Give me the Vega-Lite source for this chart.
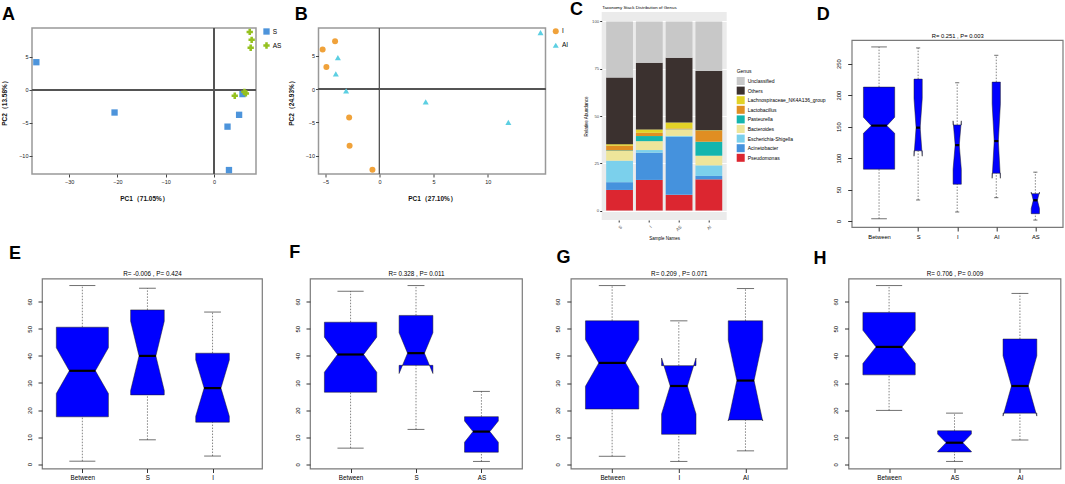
{
  "$schema": "https://vega.github.io/schema/vega-lite/v6.json",
  "padding": {"left": 0, "top": 1, "right": 0, "bottom": 0},
  "background": "white",
  "config": {
    "font": "Liberation Sans",
    "view": {"stroke": null},
    "axis": {"grid": false, "labelOverlap": false, "labelFont": "Liberation Sans", "titleFont": "Liberation Sans", "labelColor": "#222", "titleColor": "#111", "tickColor": "#444"},
    "legend": {"labelFont": "Liberation Sans", "titleFont": "Liberation Sans"},
    "title": {"font": "Liberation Sans"}
  },
  "datasets": {
    "pcaA": [
      {"Group": "S", "PC1": -36.8, "PC2": 4.2},
      {"Group": "S", "PC1": -20.6, "PC2": -3.45},
      {"Group": "S", "PC1": 2.8, "PC2": -5.6},
      {"Group": "S", "PC1": 5.2, "PC2": -3.8},
      {"Group": "S", "PC1": 3.1, "PC2": -12.2},
      {"Group": "S", "PC1": 5.9, "PC2": -0.65},
      {"Group": "AS", "PC1": 7.4, "PC2": 8.8},
      {"Group": "AS", "PC1": 7.8, "PC2": 7.6},
      {"Group": "AS", "PC1": 7.6, "PC2": 6.4},
      {"Group": "AS", "PC1": 4.3, "PC2": -0.9},
      {"Group": "AS", "PC1": 6.3, "PC2": -0.3},
      {"Group": "AS", "PC1": 6.6, "PC2": -0.55}
    ],
    "pcaB": [
      {"Group": "I", "PC1": -5.25, "PC2": 5.95},
      {"Group": "I", "PC1": -4.1, "PC2": 7.2},
      {"Group": "I", "PC1": -4.9, "PC2": 3.35},
      {"Group": "I", "PC1": -2.8, "PC2": -4.25},
      {"Group": "I", "PC1": -2.76, "PC2": -8.5},
      {"Group": "I", "PC1": -0.65, "PC2": -12.1},
      {"Group": "AI", "PC1": -3.84, "PC2": 4.75},
      {"Group": "AI", "PC1": -4.03, "PC2": 2.3},
      {"Group": "AI", "PC1": -3.08, "PC2": -0.25},
      {"Group": "AI", "PC1": 4.27, "PC2": -1.9},
      {"Group": "AI", "PC1": 11.9, "PC2": -5.0},
      {"Group": "AI", "PC1": 14.87, "PC2": 8.5}
    ],
    "genus": [
      {"Sample": "S", "Genus": "Pseudomonas", "Abundance": 10.9},
      {"Sample": "S", "Genus": "Acinetobacter", "Abundance": 4.1},
      {"Sample": "S", "Genus": "Escherichia-Shigella", "Abundance": 11.4},
      {"Sample": "S", "Genus": "Bacteroides", "Abundance": 5.1},
      {"Sample": "S", "Genus": "Pasteurella", "Abundance": 0.3},
      {"Sample": "S", "Genus": "Lactobacillus", "Abundance": 2.5},
      {"Sample": "S", "Genus": "Lachnospiraceae_NK4A136_group", "Abundance": 0.8},
      {"Sample": "S", "Genus": "Others", "Abundance": 35.2},
      {"Sample": "S", "Genus": "Unclassified", "Abundance": 29.7},
      {"Sample": "I", "Genus": "Pseudomonas", "Abundance": 16.2},
      {"Sample": "I", "Genus": "Acinetobacter", "Abundance": 14.4},
      {"Sample": "I", "Genus": "Escherichia-Shigella", "Abundance": 1.4},
      {"Sample": "I", "Genus": "Bacteroides", "Abundance": 4.7},
      {"Sample": "I", "Genus": "Pasteurella", "Abundance": 2.7},
      {"Sample": "I", "Genus": "Lactobacillus", "Abundance": 1.7},
      {"Sample": "I", "Genus": "Lachnospiraceae_NK4A136_group", "Abundance": 1.8},
      {"Sample": "I", "Genus": "Others", "Abundance": 35.3},
      {"Sample": "I", "Genus": "Unclassified", "Abundance": 21.8},
      {"Sample": "AS", "Genus": "Pseudomonas", "Abundance": 8.3},
      {"Sample": "AS", "Genus": "Acinetobacter", "Abundance": 30.7},
      {"Sample": "AS", "Genus": "Escherichia-Shigella", "Abundance": 0.5},
      {"Sample": "AS", "Genus": "Bacteroides", "Abundance": 3.4},
      {"Sample": "AS", "Genus": "Pasteurella", "Abundance": 0.1},
      {"Sample": "AS", "Genus": "Lactobacillus", "Abundance": 0.4},
      {"Sample": "AS", "Genus": "Lachnospiraceae_NK4A136_group", "Abundance": 3.2},
      {"Sample": "AS", "Genus": "Others", "Abundance": 34.2},
      {"Sample": "AS", "Genus": "Unclassified", "Abundance": 19.2},
      {"Sample": "AI", "Genus": "Pseudomonas", "Abundance": 16.5},
      {"Sample": "AI", "Genus": "Acinetobacter", "Abundance": 1.8},
      {"Sample": "AI", "Genus": "Escherichia-Shigella", "Abundance": 5.6},
      {"Sample": "AI", "Genus": "Bacteroides", "Abundance": 5.1},
      {"Sample": "AI", "Genus": "Pasteurella", "Abundance": 7.4},
      {"Sample": "AI", "Genus": "Lactobacillus", "Abundance": 5.8},
      {"Sample": "AI", "Genus": "Lachnospiraceae_NK4A136_group", "Abundance": 0.3},
      {"Sample": "AI", "Genus": "Others", "Abundance": 31.3},
      {"Sample": "AI", "Genus": "Unclassified", "Abundance": 26.2}
    ],
    "boxes": [
      {"panel": "D", "group": "Between", "n": 216, "wlo": 3.7, "q1": 82.4, "clo": 139.4, "med": 151.6, "chi": 164.9, "q3": 212.8, "whi": 276.6},
      {"panel": "D", "group": "S", "n": 15, "wlo": 33.5, "q1": 111.7, "clo": 103.0, "med": 148.4, "chi": 194.8, "q3": 225.5, "whi": 275.0},
      {"panel": "D", "group": "I", "n": 15, "wlo": 14.4, "q1": 58.5, "clo": 82.2, "med": 120.7, "chi": 159.2, "q3": 152.7, "whi": 219.7},
      {"panel": "D", "group": "AI", "n": 15, "wlo": 37.2, "q1": 76.0, "clo": 68.0, "med": 127.1, "chi": 186.2, "q3": 220.7, "whi": 263.3},
      {"panel": "D", "group": "AS", "n": 15, "wlo": 1.6, "q1": 11.7, "clo": 20.0, "med": 33.0, "chi": 46.0, "q3": 43.6, "whi": 77.7},
      {"panel": "E", "group": "Between", "n": 36, "wlo": 1.1, "q1": 17.5, "clo": 26.1, "med": 34.5, "chi": 43.0, "q3": 50.6, "whi": 66.0},
      {"panel": "E", "group": "S", "n": 15, "wlo": 9.0, "q1": 25.6, "clo": 27.2, "med": 40.0, "chi": 52.8, "q3": 57.0, "whi": 65.0},
      {"panel": "E", "group": "I", "n": 15, "wlo": 3.0, "q1": 15.5, "clo": 17.7, "med": 28.1, "chi": 38.5, "q3": 41.0, "whi": 56.2},
      {"panel": "F", "group": "Between", "n": 36, "wlo": 6.0, "q1": 26.6, "clo": 34.0, "med": 40.5, "chi": 46.9, "q3": 52.4, "whi": 63.8},
      {"panel": "F", "group": "S", "n": 15, "wlo": 12.9, "q1": 36.5, "clo": 33.5, "med": 41.0, "chi": 48.5, "q3": 54.9, "whi": 65.9},
      {"panel": "F", "group": "AS", "n": 15, "wlo": 1.1, "q1": 4.5, "clo": 8.2, "med": 12.1, "chi": 16.0, "q3": 17.6, "whi": 26.9},
      {"panel": "G", "group": "Between", "n": 36, "wlo": 3.0, "q1": 20.4, "clo": 28.8, "med": 37.4, "chi": 46.0, "q3": 52.9, "whi": 65.9},
      {"panel": "G", "group": "I", "n": 15, "wlo": 1.1, "q1": 11.1, "clo": 18.6, "med": 28.9, "chi": 39.2, "q3": 36.4, "whi": 52.9},
      {"panel": "G", "group": "AI", "n": 15, "wlo": 5.0, "q1": 16.4, "clo": 16.0, "med": 30.9, "chi": 45.8, "q3": 52.9, "whi": 64.8},
      {"panel": "H", "group": "Between", "n": 36, "wlo": 19.9, "q1": 33.0, "clo": 37.2, "med": 43.3, "chi": 49.4, "q3": 56.0, "whi": 65.9},
      {"panel": "H", "group": "AS", "n": 15, "wlo": 1.1, "q1": 4.6, "clo": 4.8, "med": 8.0, "chi": 11.2, "q3": 12.4, "whi": 18.9},
      {"panel": "H", "group": "AI", "n": 15, "wlo": 9.0, "q1": 18.9, "clo": 17.8, "med": 28.9, "chi": 40.0, "q3": 46.2, "whi": 63.0}
    ]
  },
  "resolve": {"scale": {"color": "independent", "shape": "independent"}, "legend": {"color": "independent", "shape": "independent"}},
  "spacing": 3.5,
  "vconcat": [
    {
      "spacing": -0.3,
      "resolve": {"scale": {"color": "independent", "shape": "independent"}, "legend": {"color": "independent", "shape": "independent"}},
      "hconcat": [
        {
          "spacing": 3.5,
          "resolve": {"scale": {"color": "independent", "shape": "independent"}, "legend": {"color": "independent", "shape": "independent"}},
          "hconcat": [
            {
              "bounds": "flush", "spacing": 0,
              "resolve": {"scale": {"color": "independent", "shape": "independent"}, "legend": {"color": "independent", "shape": "independent"}},
              "vconcat": [
                {"width": 1, "height": 16, "data": {"values": []}, "mark": {"type": "point"}},
                {
                  "width": 224, "height": 146,
                  "title": {"text": "A", "anchor": "start", "frame": "group", "dx": -30, "offset": 4, "fontSize": 18, "fontWeight": "bold", "color": "#000"},
                  "view": {"stroke": "#999", "strokeWidth": 1.5},
                  "data": {"name": "pcaA"},
                  "layer": [
                    {"mark": {"type": "rule", "color": "#555", "strokeWidth": 1}, "encoding": {"y": {"datum": 0, "type": "quantitative"}}},
                    {"mark": {"type": "rule", "color": "#555", "strokeWidth": 1}, "encoding": {"x": {"datum": 0, "type": "quantitative"}}},
                    {"mark": {"type": "point", "filled": true, "opacity": 1, "size": 40},
                     "encoding": {
                       "x": {"field": "PC1", "type": "quantitative", "scale": {"domain": [-37.7, 8.7], "nice": false, "zero": false},
                             "axis": {"values": [-30, -20, -10, 0], "title": "PC1（71.05%）", "titleFontSize": 6.5, "titleFontWeight": "bold", "titlePadding": 11, "labelFontSize": 5.5, "labelPadding": 2, "tickSize": 3, "domain": false, "labelFlush": false}},
                       "y": {"field": "PC2", "type": "quantitative", "scale": {"domain": [-12.8, 9.4], "nice": false, "zero": false},
                             "axis": {"values": [-10, -5, 0, 5], "title": "PC2（13.58%）", "titleFontSize": 6.5, "titleFontWeight": "bold", "titlePadding": 11, "labelFontSize": 5.5, "labelPadding": 1, "tickSize": 3, "domain": false}},
                       "color": {"field": "Group", "type": "nominal", "scale": {"domain": ["S", "AS"], "range": ["#4d94db", "#95c11f"]},
                                 "legend": {"title": null, "orient": "right", "offset": 6.8, "padding": 0, "labelFontSize": 6.5, "symbolSize": 40, "rowPadding": 7, "labelOffset": 2.7, "symbolStrokeWidth": 0}},
                       "shape": {"field": "Group", "type": "nominal", "scale": {"domain": ["S", "AS"], "range": ["square", "cross"]}}
                     }}
                  ]
                }
              ]
            },
            {
              "bounds": "flush", "spacing": 0,
              "resolve": {"scale": {"color": "independent", "shape": "independent"}, "legend": {"color": "independent", "shape": "independent"}},
              "vconcat": [
                {"width": 1, "height": 16, "data": {"values": []}, "mark": {"type": "point"}},
                {
                  "width": 227, "height": 146,
                  "title": {"text": "B", "anchor": "start", "frame": "group", "dx": -23.7, "offset": 4, "fontSize": 18, "fontWeight": "bold", "color": "#000"},
                  "view": {"stroke": "#999", "strokeWidth": 1.5},
                  "data": {"name": "pcaB"},
                  "layer": [
                    {"mark": {"type": "rule", "color": "#555", "strokeWidth": 1}, "encoding": {"y": {"datum": 0, "type": "quantitative"}}},
                    {"mark": {"type": "rule", "color": "#555", "strokeWidth": 1}, "encoding": {"x": {"datum": 0, "type": "quantitative"}}},
                    {"mark": {"type": "point", "filled": true, "opacity": 1, "size": 36},
                     "encoding": {
                       "x": {"field": "PC1", "type": "quantitative", "scale": {"domain": [-5.63, 15.33], "nice": false, "zero": false},
                             "axis": {"values": [-5, 0, 5, 10], "title": "PC1（27.10%）", "titleFontSize": 6.5, "titleFontWeight": "bold", "titlePadding": 11, "labelFontSize": 5.5, "labelPadding": 2, "tickSize": 3, "domain": false, "labelFlush": false}},
                       "y": {"field": "PC2", "type": "quantitative", "scale": {"domain": [-12.75, 9.2], "nice": false, "zero": false},
                             "axis": {"values": [-10, -5, 0, 5], "title": "PC2（24.93%）", "titleFontSize": 6.5, "titleFontWeight": "bold", "titlePadding": 11, "labelFontSize": 5.5, "labelPadding": 1, "tickSize": 3, "domain": false}},
                       "color": {"field": "Group", "type": "nominal", "scale": {"domain": ["I", "AI"], "range": ["#f0a23a", "#5ccfe2"]},
                                 "legend": {"title": null, "orient": "right", "offset": 7, "padding": 0, "labelFontSize": 6.5, "symbolSize": 36, "rowPadding": 7, "labelOffset": 3, "symbolStrokeWidth": 0}},
                       "shape": {"field": "Group", "type": "nominal", "scale": {"domain": ["I", "AI"], "range": ["circle", "triangle-up"]}}
                     }}
                  ]
                }
              ]
            }
          ]
        },
        {
          "spacing": -10,
          "resolve": {"scale": {"color": "independent", "shape": "independent"}, "legend": {"color": "independent", "shape": "independent"}},
          "hconcat": [
            {
              "width": 125, "height": 208,
              "title": {"text": "C", "anchor": "start", "frame": "group", "dx": -31.7, "offset": -15, "fontSize": 18, "fontWeight": "bold", "color": "#000"},
              "view": {"fill": "#ebebeb", "stroke": null},
              "data": {"name": "genus"},
              "transform": [
                {"calculate": "indexof(['Pseudomonas','Acinetobacter','Escherichia-Shigella','Bacteroides','Pasteurella','Lactobacillus','Lachnospiraceae_NK4A136_group','Others','Unclassified'], datum.Genus)", "as": "stackOrder"}
              ],
              "layer": [
                {"mark": {"type": "bar"},
                 "encoding": {
                   "x": {"field": "Sample", "type": "nominal", "sort": ["S", "I", "AS", "AI"], "scale": {"paddingInner": 0.1, "paddingOuter": 0.15},
                         "axis": {"title": "Sample Names", "titleFontSize": 4.5, "titleFontWeight": "normal", "titleColor": "#000", "titlePadding": 4, "labelAngle": -45, "labelFontSize": 4.5, "labelColor": "#4d4d4d", "tickSize": 2, "tickColor": "#333", "domain": false}},
                   "y": {"field": "Abundance", "type": "quantitative", "stack": "zero", "scale": {"domain": [-5, 105], "nice": false, "zero": false},
                         "axis": {"values": [0, 25, 50, 75, 100], "title": "Relative Abundance", "titleFontSize": 4.5, "titleFontWeight": "normal", "titleColor": "#000", "titlePadding": 3, "labelFontSize": 4.3, "labelColor": "#4d4d4d", "labelPadding": 1, "tickSize": 2, "tickColor": "#333", "domain": false, "grid": true, "gridColor": "#ffffff", "gridWidth": 1}},
                   "color": {"field": "Genus", "type": "nominal",
                             "scale": {"domain": ["Unclassified", "Others", "Lachnospiraceae_NK4A136_group", "Lactobacillus", "Pasteurella", "Bacteroides", "Escherichia-Shigella", "Acinetobacter", "Pseudomonas"],
                                       "range": ["#c8c8c8", "#3b312f", "#e2d227", "#e08e22", "#14b5ae", "#eee59a", "#7bd0ec", "#4592dd", "#dc2630"]},
                             "legend": {"title": "Genus", "orient": "none", "legendX": 135, "legendY": 57, "titleFontSize": 5, "titleFontWeight": "normal", "titleColor": "#000", "titlePadding": 3, "labelFontSize": 5, "labelColor": "#000", "symbolType": "square", "symbolSize": 64, "symbolStrokeWidth": 0, "rowPadding": 1.6, "labelOffset": 3, "padding": 0}},
                   "order": {"field": "stackOrder", "type": "quantitative"}
                 }},
                {"mark": {"type": "tick", "opacity": 0},
                 "encoding": {
                   "x": {"field": "Sample", "type": "nominal", "sort": ["S", "I", "AS", "AI"],
                         "axis": {"orient": "top", "title": "Taxonomy Stack Distribution of Genus", "titleAnchor": "start", "titleFontSize": 4.4, "titleFontWeight": "normal", "titleColor": "#000", "titlePadding": 3, "labels": false, "ticks": false, "domain": false}}
                 }}
              ],
              "resolve": {"axis": {"x": "independent"}}
            },
            {
              "bounds": "flush", "spacing": 0,
              "vconcat": [
                {"width": 1, "height": 28, "data": {"values": []}, "mark": {"type": "point"}},
                {
                  "width": 211, "height": 187,
                  "title": {"text": "D", "anchor": "start", "frame": "group", "dx": -35, "offset": 7.6, "fontSize": 18, "fontWeight": "bold", "color": "#000"},
                  "view": {"stroke": "#7a7a7a", "strokeWidth": 1.2},
                  "data": {"name": "boxes"},
                  "transform": [
                    {"filter": "datum.panel === 'D'"},
                    {"calculate": "indexof(['Between','S','I','AI','AS'], datum.group) + 1", "as": "gi"},
                    {"joinaggregate": [{"op": "max", "field": "n", "as": "nmax"}]},
                    {"calculate": "0.4 * sqrt(datum.n / datum.nmax)", "as": "hw"},
                    {"calculate": "datum.gi - 0.5 * datum.hw", "as": "xin0"},
                    {"calculate": "datum.gi + 0.5 * datum.hw", "as": "xin1"}
                  ],
                  "layer": [
                    {"mark": {"type": "rule", "color": "#333", "strokeWidth": 0.6, "strokeDash": [1.5, 1.5]},
                     "encoding": {
                       "x": {"field": "gi", "type": "quantitative", "scale": {"domain": [0.3, 5.7], "nice": false, "zero": false},
                             "axis": {"orient": "bottom", "values": [1, 2, 3, 4, 5], "labelExpr": "['', 'Between', 'S', 'I', 'AI', 'AS'][datum.value]", "title": null, "domain": false, "tickSize": 4, "tickColor": "#333", "labelFontSize": 5.8, "labelPadding": 2, "labelFlush": false, "labelColor": "#000"}},
                       "y": {"field": "q3", "type": "quantitative", "scale": {"domain": [-9.4, 287.6], "nice": false, "zero": false},
                             "axis": {"orient": "left", "values": [0, 50, 100, 150, 200, 250], "title": null, "domain": false, "tickSize": 4, "tickColor": "#333", "labelAngle": -90, "labelAlign": "center", "labelBaseline": "bottom", "labelPadding": 6, "labelFontSize": 5.8, "labelColor": "#000", "labelOverlap": false, "labelSeparation": 0, "labelBound": false}},
                       "y2": {"field": "whi"}
                     }},
                    {"mark": {"type": "rule", "color": "#333", "strokeWidth": 0.6, "strokeDash": [1.5, 1.5]},
                     "encoding": {"x": {"field": "gi", "type": "quantitative", "axis": null}, "y": {"field": "wlo", "type": "quantitative", "axis": null}, "y2": {"field": "q1"}}},
                    {"mark": {"type": "rule", "color": "#333", "strokeWidth": 0.7},
                     "encoding": {"x": {"field": "xin0", "type": "quantitative", "axis": null}, "x2": {"field": "xin1"}, "y": {"field": "whi", "type": "quantitative", "axis": null}}},
                    {"mark": {"type": "rule", "color": "#333", "strokeWidth": 0.7},
                     "encoding": {"x": {"field": "xin0", "type": "quantitative", "axis": null}, "x2": {"field": "xin1"}, "y": {"field": "wlo", "type": "quantitative", "axis": null}}},
                    {"transform": [
                       {"fold": ["q1", "clo", "med", "chi", "q3"], "as": ["stat", "v"]},
                       {"calculate": "datum.stat === 'med' ? 0.5 : 1", "as": "k"},
                       {"calculate": "datum.gi - datum.hw * datum.k", "as": "xl"},
                       {"calculate": "datum.gi + datum.hw * datum.k", "as": "xr"}
                     ],
                     "mark": {"type": "area", "orient": "horizontal", "fill": "#0000ff", "stroke": "#1a1a1a", "strokeWidth": 0.5},
                     "encoding": {"y": {"field": "v", "type": "quantitative", "axis": null}, "x": {"field": "xl", "type": "quantitative", "axis": null}, "x2": {"field": "xr"}, "detail": {"field": "group"}, "order": {"value": null}}},
                    {"mark": {"type": "rule", "color": "#000", "strokeWidth": 2.2},
                     "encoding": {"x": {"field": "xin0", "type": "quantitative", "axis": null}, "x2": {"field": "xin1"}, "y": {"field": "med", "type": "quantitative", "axis": null}}},
                    {"mark": {"type": "rule", "opacity": 0},
                     "encoding": {"x": {"field": "gi", "type": "quantitative", "axis": {"orient": "top", "title": "R= 0.251 , P= 0.003", "labels": false, "ticks": false, "domain": false, "titleFontSize": 5.8, "titleFontWeight": "normal", "titlePadding": 2, "titleColor": "#000"}}}}
                  ],
                  "resolve": {"axis": {"x": "independent", "y": "independent"}}
                }
              ]
            }
          ]
        }
      ]
    },
    {
      "spacing": 30.8,
      "hconcat": [
        {
          "spacing": 25,
          "hconcat": [
            {
              "bounds": "flush", "spacing": 0,
              "hconcat": [
                {"width": 10, "height": 1, "data": {"values": []}, "mark": {"type": "point"}},
                {
                  "width": 220, "height": 190,
                  "title": {"text": "E", "anchor": "start", "frame": "group", "dx": -33, "offset": 7.6, "fontSize": 18, "fontWeight": "bold", "color": "#000"},
                  "view": {"stroke": "#7a7a7a", "strokeWidth": 1.2},
                  "data": {"name": "boxes"},
                  "transform": [
                    {"filter": "datum.panel === 'E'"},
                    {"calculate": "indexof(['Between','S','I'], datum.group) + 1", "as": "gi"},
                    {"joinaggregate": [{"op": "max", "field": "n", "as": "nmax"}]},
                    {"calculate": "0.4 * sqrt(datum.n / datum.nmax)", "as": "hw"},
                    {"calculate": "datum.gi - 0.5 * datum.hw", "as": "xin0"},
                    {"calculate": "datum.gi + 0.5 * datum.hw", "as": "xin1"}
                  ],
                  "layer": [
                    {"mark": {"type": "rule", "color": "#333", "strokeWidth": 0.6, "strokeDash": [1.5, 1.5]},
                     "encoding": {
                       "x": {"field": "gi", "type": "quantitative", "scale": {"domain": [0.38, 3.76], "nice": false, "zero": false},
                             "axis": {"orient": "bottom", "values": [1, 2, 3], "labelExpr": "['', 'Between', 'S', 'I'][datum.value]", "title": null, "domain": false, "tickSize": 4, "tickColor": "#333", "labelFontSize": 6.3, "labelPadding": 2, "labelFlush": false, "labelColor": "#000"}},
                       "y": {"field": "q3", "type": "quantitative", "scale": {"domain": [-1.6, 68.6], "nice": false, "zero": false},
                             "axis": {"orient": "left", "values": [0, 10, 20, 30, 40, 50, 60], "title": null, "domain": false, "tickSize": 4, "tickColor": "#333", "labelAngle": -90, "labelAlign": "center", "labelBaseline": "bottom", "labelPadding": 6, "labelFontSize": 6, "labelColor": "#000", "labelOverlap": false, "labelSeparation": 0, "labelBound": false}},
                       "y2": {"field": "whi"}
                     }},
                    {"mark": {"type": "rule", "color": "#333", "strokeWidth": 0.6, "strokeDash": [1.5, 1.5]},
                     "encoding": {"x": {"field": "gi", "type": "quantitative", "axis": null}, "y": {"field": "wlo", "type": "quantitative", "axis": null}, "y2": {"field": "q1"}}},
                    {"mark": {"type": "rule", "color": "#333", "strokeWidth": 0.7},
                     "encoding": {"x": {"field": "xin0", "type": "quantitative", "axis": null}, "x2": {"field": "xin1"}, "y": {"field": "whi", "type": "quantitative", "axis": null}}},
                    {"mark": {"type": "rule", "color": "#333", "strokeWidth": 0.7},
                     "encoding": {"x": {"field": "xin0", "type": "quantitative", "axis": null}, "x2": {"field": "xin1"}, "y": {"field": "wlo", "type": "quantitative", "axis": null}}},
                    {"transform": [
                       {"fold": ["q1", "clo", "med", "chi", "q3"], "as": ["stat", "v"]},
                       {"calculate": "datum.stat === 'med' ? 0.5 : 1", "as": "k"},
                       {"calculate": "datum.gi - datum.hw * datum.k", "as": "xl"},
                       {"calculate": "datum.gi + datum.hw * datum.k", "as": "xr"}
                     ],
                     "mark": {"type": "area", "orient": "horizontal", "fill": "#0000ff", "stroke": "#1a1a1a", "strokeWidth": 0.5},
                     "encoding": {"y": {"field": "v", "type": "quantitative", "axis": null}, "x": {"field": "xl", "type": "quantitative", "axis": null}, "x2": {"field": "xr"}, "detail": {"field": "group"}, "order": {"value": null}}},
                    {"mark": {"type": "rule", "color": "#000", "strokeWidth": 2.2},
                     "encoding": {"x": {"field": "xin0", "type": "quantitative", "axis": null}, "x2": {"field": "xin1"}, "y": {"field": "med", "type": "quantitative", "axis": null}}},
                    {"mark": {"type": "rule", "opacity": 0},
                     "encoding": {"x": {"field": "gi", "type": "quantitative", "axis": {"orient": "top", "title": "R= -0.006 , P= 0.424", "labels": false, "ticks": false, "domain": false, "titleFontSize": 6.3, "titleFontWeight": "normal", "titlePadding": 2, "titleColor": "#000"}}}}
                  ],
                  "resolve": {"axis": {"x": "independent", "y": "independent"}}
                }
              ]
            },
            {
              "width": 212, "height": 190,
              "title": {"text": "F", "anchor": "start", "frame": "group", "dx": -20.7, "offset": 8.3, "fontSize": 18, "fontWeight": "bold", "color": "#000"},
              "view": {"stroke": "#7a7a7a", "strokeWidth": 1.2},
              "data": {"name": "boxes"},
              "transform": [
                {"filter": "datum.panel === 'F'"},
                {"calculate": "indexof(['Between','S','AS'], datum.group) + 1", "as": "gi"},
                {"joinaggregate": [{"op": "max", "field": "n", "as": "nmax"}]},
                {"calculate": "0.4 * sqrt(datum.n / datum.nmax)", "as": "hw"},
                {"calculate": "datum.gi - 0.5 * datum.hw", "as": "xin0"},
                {"calculate": "datum.gi + 0.5 * datum.hw", "as": "xin1"}
              ],
              "layer": [
                {"mark": {"type": "rule", "color": "#333", "strokeWidth": 0.6, "strokeDash": [1.5, 1.5]},
                 "encoding": {
                   "x": {"field": "gi", "type": "quantitative", "scale": {"domain": [0.38, 3.62], "nice": false, "zero": false},
                         "axis": {"orient": "bottom", "values": [1, 2, 3], "labelExpr": "['', 'Between', 'S', 'AS'][datum.value]", "title": null, "domain": false, "tickSize": 4, "tickColor": "#333", "labelFontSize": 6.3, "labelPadding": 2, "labelFlush": false, "labelColor": "#000"}},
                   "y": {"field": "q3", "type": "quantitative", "scale": {"domain": [-1.5, 68.5], "nice": false, "zero": false},
                         "axis": {"orient": "left", "values": [0, 10, 20, 30, 40, 50, 60], "title": null, "domain": false, "tickSize": 4, "tickColor": "#333", "labelAngle": -90, "labelAlign": "center", "labelBaseline": "bottom", "labelPadding": 6, "labelFontSize": 6, "labelColor": "#000", "labelOverlap": false, "labelSeparation": 0, "labelBound": false}},
                   "y2": {"field": "whi"}
                 }},
                {"mark": {"type": "rule", "color": "#333", "strokeWidth": 0.6, "strokeDash": [1.5, 1.5]},
                 "encoding": {"x": {"field": "gi", "type": "quantitative", "axis": null}, "y": {"field": "wlo", "type": "quantitative", "axis": null}, "y2": {"field": "q1"}}},
                {"mark": {"type": "rule", "color": "#333", "strokeWidth": 0.7},
                 "encoding": {"x": {"field": "xin0", "type": "quantitative", "axis": null}, "x2": {"field": "xin1"}, "y": {"field": "whi", "type": "quantitative", "axis": null}}},
                {"mark": {"type": "rule", "color": "#333", "strokeWidth": 0.7},
                 "encoding": {"x": {"field": "xin0", "type": "quantitative", "axis": null}, "x2": {"field": "xin1"}, "y": {"field": "wlo", "type": "quantitative", "axis": null}}},
                {"transform": [
                   {"fold": ["q1", "clo", "med", "chi", "q3"], "as": ["stat", "v"]},
                   {"calculate": "datum.stat === 'med' ? 0.5 : 1", "as": "k"},
                   {"calculate": "datum.gi - datum.hw * datum.k", "as": "xl"},
                   {"calculate": "datum.gi + datum.hw * datum.k", "as": "xr"}
                 ],
                 "mark": {"type": "area", "orient": "horizontal", "fill": "#0000ff", "stroke": "#1a1a1a", "strokeWidth": 0.5},
                 "encoding": {"y": {"field": "v", "type": "quantitative", "axis": null}, "x": {"field": "xl", "type": "quantitative", "axis": null}, "x2": {"field": "xr"}, "detail": {"field": "group"}, "order": {"value": null}}},
                {"mark": {"type": "rule", "color": "#000", "strokeWidth": 2.2},
                 "encoding": {"x": {"field": "xin0", "type": "quantitative", "axis": null}, "x2": {"field": "xin1"}, "y": {"field": "med", "type": "quantitative", "axis": null}}},
                {"mark": {"type": "rule", "opacity": 0},
                 "encoding": {"x": {"field": "gi", "type": "quantitative", "axis": {"orient": "top", "title": "R= 0.328 , P= 0.011", "labels": false, "ticks": false, "domain": false, "titleFontSize": 6.3, "titleFontWeight": "normal", "titlePadding": 2, "titleColor": "#000"}}}}
              ],
              "resolve": {"axis": {"x": "independent", "y": "independent"}}
            }
          ]
        },
        {
          "spacing": 24.7,
          "hconcat": [
            {
              "width": 216, "height": 190,
              "title": {"text": "G", "anchor": "start", "frame": "group", "dx": -14.3, "offset": 3.8, "fontSize": 18, "fontWeight": "bold", "color": "#000"},
              "view": {"stroke": "#7a7a7a", "strokeWidth": 1.2},
              "data": {"name": "boxes"},
              "transform": [
                {"filter": "datum.panel === 'G'"},
                {"calculate": "indexof(['Between','I','AI'], datum.group) + 1", "as": "gi"},
                {"joinaggregate": [{"op": "max", "field": "n", "as": "nmax"}]},
                {"calculate": "0.4 * sqrt(datum.n / datum.nmax)", "as": "hw"},
                {"calculate": "datum.gi - 0.5 * datum.hw", "as": "xin0"},
                {"calculate": "datum.gi + 0.5 * datum.hw", "as": "xin1"}
              ],
              "layer": [
                {"mark": {"type": "rule", "color": "#333", "strokeWidth": 0.6, "strokeDash": [1.5, 1.5]},
                 "encoding": {
                   "x": {"field": "gi", "type": "quantitative", "scale": {"domain": [0.38, 3.62], "nice": false, "zero": false},
                         "axis": {"orient": "bottom", "values": [1, 2, 3], "labelExpr": "['', 'Between', 'I', 'AI'][datum.value]", "title": null, "domain": false, "tickSize": 4, "tickColor": "#333", "labelFontSize": 6.3, "labelPadding": 2, "labelFlush": false, "labelColor": "#000"}},
                   "y": {"field": "q3", "type": "quantitative", "scale": {"domain": [-1.5, 68.5], "nice": false, "zero": false},
                         "axis": {"orient": "left", "values": [0, 10, 20, 30, 40, 50, 60], "title": null, "domain": false, "tickSize": 4, "tickColor": "#333", "labelAngle": -90, "labelAlign": "center", "labelBaseline": "bottom", "labelPadding": 6, "labelFontSize": 6, "labelColor": "#000", "labelOverlap": false, "labelSeparation": 0, "labelBound": false}},
                   "y2": {"field": "whi"}
                 }},
                {"mark": {"type": "rule", "color": "#333", "strokeWidth": 0.6, "strokeDash": [1.5, 1.5]},
                 "encoding": {"x": {"field": "gi", "type": "quantitative", "axis": null}, "y": {"field": "wlo", "type": "quantitative", "axis": null}, "y2": {"field": "q1"}}},
                {"mark": {"type": "rule", "color": "#333", "strokeWidth": 0.7},
                 "encoding": {"x": {"field": "xin0", "type": "quantitative", "axis": null}, "x2": {"field": "xin1"}, "y": {"field": "whi", "type": "quantitative", "axis": null}}},
                {"mark": {"type": "rule", "color": "#333", "strokeWidth": 0.7},
                 "encoding": {"x": {"field": "xin0", "type": "quantitative", "axis": null}, "x2": {"field": "xin1"}, "y": {"field": "wlo", "type": "quantitative", "axis": null}}},
                {"transform": [
                   {"fold": ["q1", "clo", "med", "chi", "q3"], "as": ["stat", "v"]},
                   {"calculate": "datum.stat === 'med' ? 0.5 : 1", "as": "k"},
                   {"calculate": "datum.gi - datum.hw * datum.k", "as": "xl"},
                   {"calculate": "datum.gi + datum.hw * datum.k", "as": "xr"}
                 ],
                 "mark": {"type": "area", "orient": "horizontal", "fill": "#0000ff", "stroke": "#1a1a1a", "strokeWidth": 0.5},
                 "encoding": {"y": {"field": "v", "type": "quantitative", "axis": null}, "x": {"field": "xl", "type": "quantitative", "axis": null}, "x2": {"field": "xr"}, "detail": {"field": "group"}, "order": {"value": null}}},
                {"mark": {"type": "rule", "color": "#000", "strokeWidth": 2.2},
                 "encoding": {"x": {"field": "xin0", "type": "quantitative", "axis": null}, "x2": {"field": "xin1"}, "y": {"field": "med", "type": "quantitative", "axis": null}}},
                {"mark": {"type": "rule", "opacity": 0},
                 "encoding": {"x": {"field": "gi", "type": "quantitative", "axis": {"orient": "top", "title": "R= 0.209 , P= 0.071", "labels": false, "ticks": false, "domain": false, "titleFontSize": 6.3, "titleFontWeight": "normal", "titlePadding": 2, "titleColor": "#000"}}}}
              ],
              "resolve": {"axis": {"x": "independent", "y": "independent"}}
            },
            {
              "width": 212, "height": 190,
              "title": {"text": "H", "anchor": "start", "frame": "group", "dx": -35, "offset": 2.3, "fontSize": 18, "fontWeight": "bold", "color": "#000"},
              "view": {"stroke": "#7a7a7a", "strokeWidth": 1.2},
              "data": {"name": "boxes"},
              "transform": [
                {"filter": "datum.panel === 'H'"},
                {"calculate": "indexof(['Between','AS','AI'], datum.group) + 1", "as": "gi"},
                {"joinaggregate": [{"op": "max", "field": "n", "as": "nmax"}]},
                {"calculate": "0.4 * sqrt(datum.n / datum.nmax)", "as": "hw"},
                {"calculate": "datum.gi - 0.5 * datum.hw", "as": "xin0"},
                {"calculate": "datum.gi + 0.5 * datum.hw", "as": "xin1"}
              ],
              "layer": [
                {"mark": {"type": "rule", "color": "#333", "strokeWidth": 0.6, "strokeDash": [1.5, 1.5]},
                 "encoding": {
                   "x": {"field": "gi", "type": "quantitative", "scale": {"domain": [0.38, 3.62], "nice": false, "zero": false},
                         "axis": {"orient": "bottom", "values": [1, 2, 3], "labelExpr": "['', 'Between', 'AS', 'AI'][datum.value]", "title": null, "domain": false, "tickSize": 4, "tickColor": "#333", "labelFontSize": 6.3, "labelPadding": 2, "labelFlush": false, "labelColor": "#000"}},
                   "y": {"field": "q3", "type": "quantitative", "scale": {"domain": [-1.5, 68.5], "nice": false, "zero": false},
                         "axis": {"orient": "left", "values": [0, 10, 20, 30, 40, 50, 60], "title": null, "domain": false, "tickSize": 4, "tickColor": "#333", "labelAngle": -90, "labelAlign": "center", "labelBaseline": "bottom", "labelPadding": 6, "labelFontSize": 6, "labelColor": "#000", "labelOverlap": false, "labelSeparation": 0, "labelBound": false}},
                   "y2": {"field": "whi"}
                 }},
                {"mark": {"type": "rule", "color": "#333", "strokeWidth": 0.6, "strokeDash": [1.5, 1.5]},
                 "encoding": {"x": {"field": "gi", "type": "quantitative", "axis": null}, "y": {"field": "wlo", "type": "quantitative", "axis": null}, "y2": {"field": "q1"}}},
                {"mark": {"type": "rule", "color": "#333", "strokeWidth": 0.7},
                 "encoding": {"x": {"field": "xin0", "type": "quantitative", "axis": null}, "x2": {"field": "xin1"}, "y": {"field": "whi", "type": "quantitative", "axis": null}}},
                {"mark": {"type": "rule", "color": "#333", "strokeWidth": 0.7},
                 "encoding": {"x": {"field": "xin0", "type": "quantitative", "axis": null}, "x2": {"field": "xin1"}, "y": {"field": "wlo", "type": "quantitative", "axis": null}}},
                {"transform": [
                   {"fold": ["q1", "clo", "med", "chi", "q3"], "as": ["stat", "v"]},
                   {"calculate": "datum.stat === 'med' ? 0.5 : 1", "as": "k"},
                   {"calculate": "datum.gi - datum.hw * datum.k", "as": "xl"},
                   {"calculate": "datum.gi + datum.hw * datum.k", "as": "xr"}
                 ],
                 "mark": {"type": "area", "orient": "horizontal", "fill": "#0000ff", "stroke": "#1a1a1a", "strokeWidth": 0.5},
                 "encoding": {"y": {"field": "v", "type": "quantitative", "axis": null}, "x": {"field": "xl", "type": "quantitative", "axis": null}, "x2": {"field": "xr"}, "detail": {"field": "group"}, "order": {"value": null}}},
                {"mark": {"type": "rule", "color": "#000", "strokeWidth": 2.2},
                 "encoding": {"x": {"field": "xin0", "type": "quantitative", "axis": null}, "x2": {"field": "xin1"}, "y": {"field": "med", "type": "quantitative", "axis": null}}},
                {"mark": {"type": "rule", "opacity": 0},
                 "encoding": {"x": {"field": "gi", "type": "quantitative", "axis": {"orient": "top", "title": "R= 0.706 , P= 0.009", "labels": false, "ticks": false, "domain": false, "titleFontSize": 6.3, "titleFontWeight": "normal", "titlePadding": 2, "titleColor": "#000"}}}}
              ],
              "resolve": {"axis": {"x": "independent", "y": "independent"}}
            }
          ]
        }
      ]
    }
  ]
}
